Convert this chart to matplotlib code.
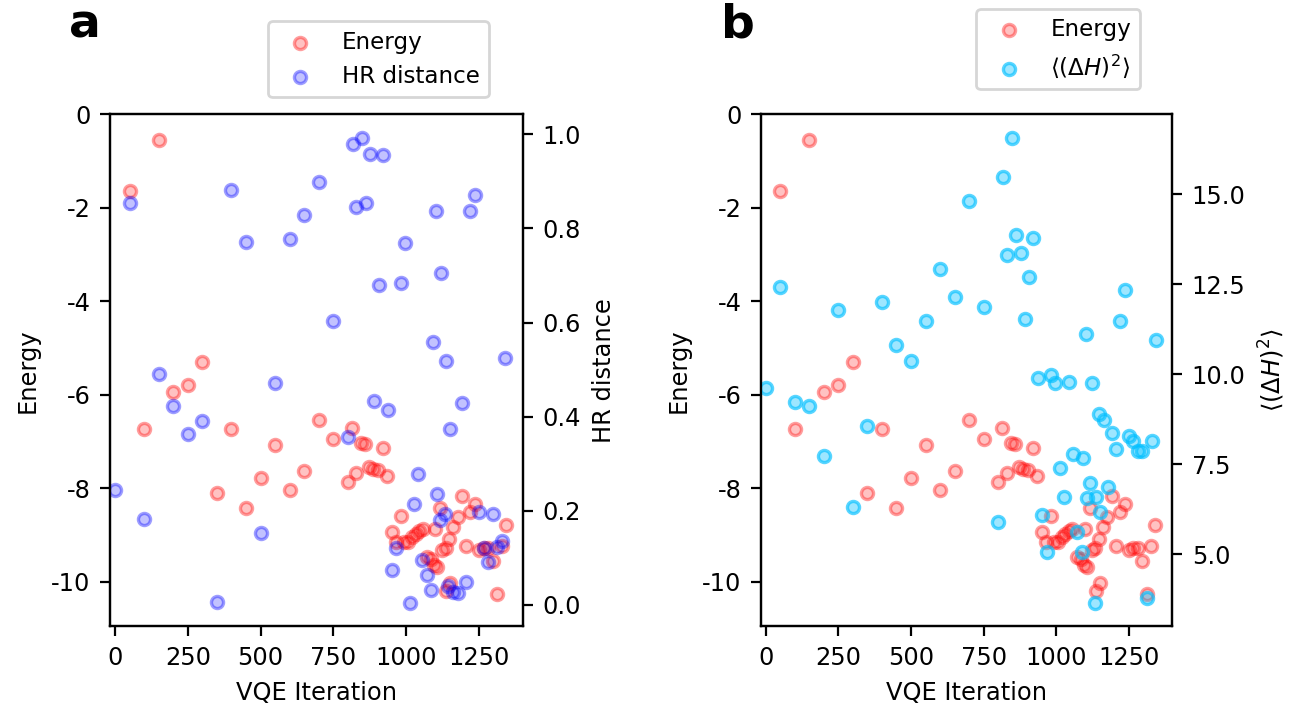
import matplotlib.pyplot as plt

plt.rcParams["font.size"] = 8.7
plt.rcParams["legend.fontsize"] = 8.3
plt.rcParams["axes.unicode_minus"] = False

# energy is shared by both panels
energy_iter = [50, 100, 150, 200, 250, 300, 350, 400, 450, 500, 550, 600, 650, 700, 750, 800,
               815, 829, 843, 858, 872, 887, 902, 920, 935, 951, 966, 982, 992, 1006, 1020, 1032,
               1045, 1056, 1071, 1086, 1094, 1106, 1100, 1117, 1122, 1135, 1147, 1136, 1151, 1162,
               1176, 1192, 1206, 1220, 1237, 1250, 1266, 1282, 1297, 1311, 1328, 1341]
energy = [-1.65, -6.73, -0.55, -5.93, -5.79, -5.30, -8.09, -6.73, -8.42, -7.78, -7.07, -8.03, -7.63, -6.54, -6.94, -7.87,
          -6.72, -7.67, -7.03, -7.06, -7.55, -7.58, -7.60, -7.13, -7.73, -8.93, -9.15, -8.60, -9.15, -9.15, -9.05, -8.97,
          -8.92, -8.87, -9.47, -9.52, -9.64, -9.68, -8.87, -8.43, -9.33, -9.28, -9.09, -10.20, -10.02, -8.82,
          -8.62, -8.16, -9.23, -8.50, -8.34, -9.33, -9.28, -9.28, -9.56, -10.27, -9.23, -8.78]

hr_iter = [0, 50, 100, 150, 200, 250, 300, 350, 400, 450, 500, 550, 600, 650, 700, 750, 800,
           816, 829, 847, 862, 876, 890, 906, 920, 936, 951, 966, 981, 996, 1012, 1025, 1041,
           1055, 1071, 1086, 1091, 1101, 1106, 1115, 1120, 1132, 1137, 1144, 1150, 1159, 1176,
           1192, 1206, 1220, 1237, 1251, 1266, 1281, 1297, 1312, 1327, 1340]
hr_dist = [0.244, 0.854, 0.182, 0.491, 0.422, 0.362, 0.391, 0.007, 0.881, 0.772, 0.153, 0.472, 0.777, 0.829, 0.899, 0.604, 0.356,
           0.979, 0.846, 0.993, 0.853, 0.958, 0.434, 0.680, 0.957, 0.413, 0.073, 0.121, 0.685, 0.769, 0.004, 0.215, 0.277,
           0.096, 0.064, 0.031, 0.559, 0.837, 0.236, 0.180, 0.705, 0.194, 0.519, 0.039, 0.374, 0.027, 0.025,
           0.428, 0.049, 0.838, 0.870, 0.197, 0.120, 0.090, 0.194, 0.122, 0.135, 0.525]

var_iter = [0, 50, 100, 150, 200, 250, 300, 350, 400, 450, 500, 550, 600, 650, 700, 750, 800,
            817, 832, 848, 863, 878, 891, 906, 921, 937, 952, 967, 982, 997, 1012, 1027, 1043,
            1057, 1072, 1088, 1092, 1103, 1106, 1116, 1123, 1138, 1132, 1147, 1152, 1163, 1178,
            1192, 1206, 1221, 1237, 1252, 1266, 1281, 1296, 1312, 1329, 1342]
var_h = [9.60, 12.42, 9.23, 9.10, 7.73, 11.77, 6.30, 8.55, 12.01, 10.81, 10.36, 11.47, 12.91, 12.14, 14.81, 11.85, 5.88,
         15.48, 13.30, 16.57, 13.86, 13.37, 11.52, 12.70, 13.78, 9.89, 6.08, 5.05, 9.96, 9.74, 7.40, 6.59, 9.77,
         7.79, 5.60, 5.05, 7.67, 11.12, 6.56, 6.96, 9.76, 6.58, 3.64, 8.88, 6.18, 8.73, 6.87,
         8.36, 7.92, 11.47, 12.34, 8.27, 8.13, 7.87, 7.87, 3.78, 8.13, 10.94]

red_face, red_edge = (1, 0, 0, 0.24), (1, 0, 0, 0.38)
blue_face, blue_edge = (0, 0, 1, 0.24), (0, 0, 1, 0.38)
cyan_face, cyan_edge = (0, 0.75, 1, 0.38), (0, 0.75, 1, 0.65)
msize = 19
mlw = 1.2

fig = plt.figure(figsize=(6.47, 3.55), dpi=200)
ax1 = fig.add_axes([0.085, 0.118, 0.319, 0.721])
ax3 = fig.add_axes([0.588, 0.118, 0.318, 0.721])

# panel a
s1 = ax1.scatter(energy_iter, energy, s=msize, facecolor=red_face, edgecolor=red_edge, linewidths=mlw, label="Energy")
ax2 = ax1.twinx()
s2 = ax2.scatter(hr_iter, hr_dist, s=msize, facecolor=blue_face, edgecolor=blue_edge, linewidths=mlw, label="HR distance")
ax1.set_xlim(-17, 1400)
ax1.set_ylim(-10.95, 0)
ax1.set_xticks([0, 250, 500, 750, 1000, 1250])
ax1.set_yticks([0, -2, -4, -6, -8, -10])
ax2.set_yticks([0.0, 0.2, 0.4, 0.6, 0.8, 1.0])
ax1.set_xlabel("VQE Iteration")
ax1.set_ylabel("Energy")
ax2.set_ylabel("HR distance")
ax1.legend([s1, s2], ["Energy", "HR distance"], loc="lower left",
           bbox_to_anchor=(0.383, 1.033), borderaxespad=0)
ax1.text(-0.1, 1.15, "a", transform=ax1.transAxes, fontsize=17, fontweight="bold", va="baseline")

# panel b
s3 = ax3.scatter(energy_iter, energy, s=msize, facecolor=red_face, edgecolor=red_edge, linewidths=mlw, label="Energy")
ax4 = ax3.twinx()
var_label = r"$\langle(\Delta H)^2\rangle$"
s4 = ax4.scatter(var_iter, var_h, s=msize, facecolor=cyan_face, edgecolor=cyan_edge, linewidths=mlw, label=var_label)
ax3.set_xlim(-17, 1400)
ax3.set_ylim(-10.95, 0)
ax3.set_xticks([0, 250, 500, 750, 1000, 1250])
ax3.set_yticks([0, -2, -4, -6, -8, -10])
ax4.set_yticks([5.0, 7.5, 10.0, 12.5, 15.0])
ax3.set_xlabel("VQE Iteration")
ax3.set_ylabel("Energy")
ax4.set_ylabel(var_label)
ax3.legend([s3, s4], ["Energy", var_label], loc="lower left",
           bbox_to_anchor=(0.524, 1.049), borderaxespad=0)
ax3.text(-0.097, 1.15, "b", transform=ax3.transAxes, fontsize=17, fontweight="bold", va="baseline")

fig.savefig("out.png", dpi=200)
